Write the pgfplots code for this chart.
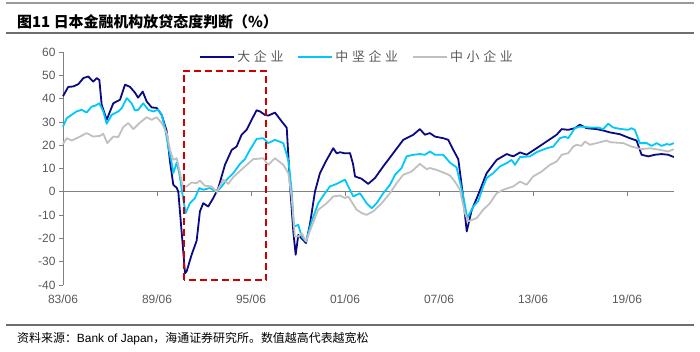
\documentclass[border=0pt]{standalone}
\usepackage{fontspec}
\setmainfont{Liberation Sans}
\newfontfamily\cjk{Noto Sans CJK SC}
\newfontfamily\cjkls{Noto Sans CJK SC}[LetterSpace=28]
\usepackage{pgfplots}
\pgfplotsset{compat=1.18}
\definecolor{cBig}{RGB}{10,10,130}
\definecolor{cMid}{RGB}{0,200,250}
\definecolor{cSmall}{RGB}{192,192,192}
\definecolor{axgray}{RGB}{128,128,128}
\definecolor{txtgray}{RGB}{89,89,89}
\definecolor{boxred}{RGB}{204,0,0}
\definecolor{rulegray}{RGB}{110,110,110}
\begin{document}
\begin{tikzpicture}[x=1bp,y=1bp]
\useasboundingbox (0,0) rectangle (700,351);
\draw[rulegray!70, line width=1.5bp] (6,348) -- (694,348);
\draw[rulegray, line width=2.5bp] (6,318) -- (694,318);
\node[anchor=base west, inner sep=0pt, font=\cjk\bfseries\fontsize{15}{15}\selectfont] at (17,324) {图11 日本金融机构放贷态度判断（\%）};
\draw[rulegray, line width=1.5bp] (6,26) -- (694,26);
\node[anchor=base west, inner sep=0pt, font=\fontsize{12}{12}\selectfont] at (17,9) {{\cjk 资料来源：}Bank of Japan{\cjk ，海通证券研究所。数值越高代表越宽松}};
\begin{axis}[
  at={(63bp,66bp)}, anchor=south west,
  scale only axis, width=611bp, height=233bp,
  xmin=1983.5, xmax=2022.5, ymin=-40, ymax=60,
  axis lines*=left,
  x axis line style={draw=none},
  y axis line style={draw=axgray, line width=1bp},
  xtick={1983.5,1989.5,1995.5,2001.5,2007.5,2013.5,2019.5},
  xticklabels={83/06,89/06,95/06,01/06,07/06,13/06,19/06},
  xtick style={draw=none},
  ytick={-40,-30,...,60},
  ytick style={draw=axgray, line width=0.8bp},
  tick align=outside, major tick length=4bp,
  tick label style={text=txtgray, font=\fontsize{12}{12}\selectfont},
  /pgf/number format/assume math mode=true,
  xticklabel style={yshift=-2bp},
  clip=false,
  legend columns=3,
  legend style={draw=none, fill=none, at={(0.218,0.978)}, anchor=west,
    font=\cjkls\fontsize{13}{13}\selectfont, text=txtgray,
    /tikz/every even column/.append style={column sep=12bp}},
  legend image code/.code={\draw[#1, line width=2bp] (0bp,0bp) -- (34bp,0bp);},
]
\draw[axgray, line width=1.2bp] (axis cs:1983.5,0) -- (axis cs:2022.5,0);
\pgfplotsinvokeforeach{1989.5,1995.5,2001.5,2007.5,2013.5,2019.5}{
  \draw[axgray, line width=0.8bp] (axis cs:#1,0) -- ([yshift=-4bp]axis cs:#1,0);
}
\addplot[cBig, line width=1.8bp, line join=round] table {
1983.50 41
1983.83 45
1984.15 45.2
1984.48 46.2
1984.80 48.8
1985.11 49.5
1985.43 47.3
1985.65 48.8
1985.82 48
1985.97 37.3
1986.29 30.9
1986.71 38
1987.14 39.5
1987.46 46
1987.78 45
1988.10 42.5
1988.29 40.4
1988.59 43
1988.84 38.8
1989.16 36.2
1989.48 36
1989.80 33
1990.12 26
1990.33 13
1990.54 3
1990.76 1.7
1990.86 0
1991.07 -17
1991.29 -35
1991.40 -34
1991.71 -27
1992.03 -21
1992.24 -8.4
1992.45 -4.9
1992.77 -6.3
1993.09 -2.7
1993.41 1.6
1993.84 11.6
1994.27 18
1994.58 19.4
1994.90 24.5
1995.22 26.6
1995.54 30.9
1995.86 35
1996.07 34.5
1996.39 33
1996.60 32.7
1997.03 34
1997.46 30.2
1997.78 27.5
1997.99 3
1998.20 -17
1998.35 -27
1998.52 -18.5
1998.73 -20
1999.01 -22
1999.26 -14
1999.58 0
1999.90 8
2000.33 13.7
2000.75 18.7
2000.97 16.5
2001.18 17
2001.50 16.5
2001.82 16.6
2002.01 12
2002.14 6.6
2002.56 5.6
2002.98 3.4
2003.41 5.9
2003.94 10.9
2004.58 16.6
2005.22 22.3
2005.86 24.5
2006.28 26.9
2006.60 24.5
2006.92 25.2
2007.24 23.7
2007.77 23
2008.09 22.3
2008.41 18
2008.73 14
2009.01 -0.5
2009.27 -17
2009.58 -8
2010.00 -1.3
2010.54 8
2011.18 13.7
2011.82 16.2
2012.24 15.2
2012.67 16.9
2013.09 15.9
2013.73 18.7
2014.37 21.6
2015.01 24.5
2015.33 26.9
2015.75 26.6
2016.17 27.3
2016.49 28.8
2016.92 27.3
2017.56 26.9
2017.98 26.3
2018.41 25.5
2019.05 24.7
2019.68 23
2020.11 22
2020.43 15.9
2020.86 15.2
2021.28 15.9
2021.71 16.2
2022.13 15.9
2022.49 14.9
};
\addlegendentry{大企业}
\addplot[cMid, line width=1.8bp, line join=round] table {
1983.50 28
1983.74 31.6
1984.37 34.5
1984.69 35.2
1985.01 34
1985.33 36.6
1985.54 36.9
1985.82 38
1986.07 34.5
1986.29 29.2
1986.61 33
1987.03 34.5
1987.25 35.9
1987.57 40.2
1987.88 38
1988.09 34.9
1988.31 35.2
1988.62 38
1988.94 35.2
1989.26 34.5
1989.58 35.2
1989.80 33
1990.01 27.3
1990.22 19.4
1990.44 12.3
1990.54 8
1990.76 12.6
1990.92 8
1991.18 -3.4
1991.33 -9.1
1991.60 -4.9
1991.92 -2.7
1992.20 1.6
1992.45 0.9
1992.88 1.6
1993.31 0
1993.63 2.3
1993.95 5.2
1994.37 8
1994.80 12
1995.11 14
1995.43 18
1995.86 22.7
1996.28 23
1996.60 20.9
1997.03 22.3
1997.56 20.9
1997.88 13.7
1998.09 0.9
1998.24 -14.9
1998.52 -14.2
1998.73 -19.2
1999.01 -21.3
1999.37 -12.7
1999.79 -4.9
2000.22 -0.6
2000.54 2.3
2000.97 3.4
2001.50 5.2
2001.71 2.3
2002.03 -2
2002.45 -0.6
2002.88 -4.9
2003.20 -7
2003.52 -4.9
2003.94 -0.6
2004.37 3
2004.69 7.3
2005.11 10.2
2005.43 15.2
2005.86 15.9
2006.28 16.2
2006.60 15.9
2006.92 17.3
2007.24 15.9
2007.77 15.9
2008.20 12.5
2008.62 10.5
2009.05 -2
2009.30 -11.3
2009.69 -6.3
2010.00 -4
2010.32 2.3
2010.54 5.9
2010.96 8
2011.39 10.9
2011.82 12.3
2012.13 13.7
2012.35 11.6
2012.67 14.9
2013.30 15.2
2013.73 17
2014.37 18.7
2014.79 19.4
2015.22 23
2015.54 23.7
2015.75 23
2016.17 27.3
2016.49 28
2017.13 27.6
2017.66 27.6
2017.98 26.9
2018.30 29.2
2018.62 27.6
2019.05 27
2019.58 26.6
2019.79 27.3
2020.00 26.6
2020.32 20.9
2020.75 20.9
2021.07 19.7
2021.39 20.9
2021.71 19.7
2022.03 20.5
2022.24 20.2
2022.49 20.9
};
\addlegendentry{中坚企业}
\addplot[cSmall, line width=1.8bp, line join=round] table {
1983.50 20.6
1983.74 23
1984.06 22
1984.58 23.7
1985.01 25.2
1985.43 23.7
1985.86 24
1986.07 24.9
1986.33 20.9
1986.71 23.7
1987.03 23.5
1987.35 27.8
1987.67 29.5
1987.99 26.9
1988.41 29.7
1988.84 32
1989.16 30.9
1989.48 32
1989.80 29.5
1990.12 25.2
1990.33 18
1990.54 13.7
1990.76 14.4
1990.97 8
1991.14 2.3
1991.39 2.3
1991.71 4
1992.03 3.7
1992.24 4.8
1992.56 2.6
1992.99 2.3
1993.31 0
1993.73 5.2
1994.05 3.4
1994.37 6.3
1994.80 9
1995.22 11.5
1995.64 14
1996.28 14.4
1996.60 11.6
1997.03 14.4
1997.56 11.6
1997.88 8
1998.09 -2
1998.30 -19.2
1998.52 -19.2
1998.73 -17.7
1999.01 -21.3
1999.37 -14.9
1999.79 -7.7
2000.33 -4.9
2000.75 -2
2001.18 -1.6
2001.50 -2.7
2001.71 -2
2002.24 -7.7
2002.56 -9.1
2002.88 -9.9
2003.30 -8.4
2003.84 -4.9
2004.37 -0.6
2004.79 3.7
2005.22 7.3
2005.75 8.7
2006.28 12
2006.71 9.7
2006.92 10.2
2007.35 9.4
2007.88 8
2008.20 7
2008.50 4.5
2008.83 1
2009.15 -9.1
2009.36 -12.7
2009.90 -11.3
2010.32 -7.7
2010.75 -4.9
2011.18 -0.6
2011.60 0.9
2012.24 2.3
2012.67 4.4
2013.09 3
2013.51 6.6
2014.05 8.7
2014.58 11.6
2015.01 13
2015.33 15.9
2015.75 16.6
2016.07 19.4
2016.28 20.2
2016.60 19.7
2016.81 21.6
2017.13 20.2
2017.56 20.9
2018.20 22
2018.41 21.3
2019.26 20.9
2019.79 19.4
2020.43 18.3
2020.96 18.7
2021.60 18
2022.13 17.3
2022.49 18.3
};
\addlegendentry{中小企业}
\draw[boxred, line width=1.8bp, dash pattern=on 7bp off 4bp] (axis cs:1991.2,-38) rectangle (axis cs:1996.45,52);
\end{axis}
\end{tikzpicture}
\end{document}
